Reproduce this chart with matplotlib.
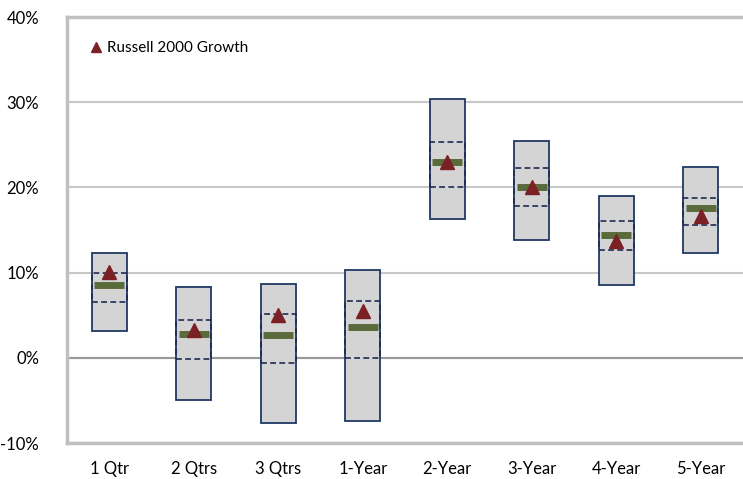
import numpy as np
import matplotlib.pyplot as plt
from matplotlib.patches import Rectangle
from matplotlib.ticker import FuncFormatter

plt.rcParams['font.family'] = ['Lato', 'DejaVu Sans']

periods = ["1 Qtr", "2 Qtrs", "3 Qtrs", "1-Year", "2-Year", "3-Year", "4-Year", "5-Year"]
# percentile ranges (%)
p95 = [12.3, 8.3, 8.7, 10.3, 30.4, 25.5, 19.0, 22.4]
p5 = [3.1, -5.0, -7.7, -7.4, 16.3, 13.8, 8.5, 12.3]
p25 = [9.9, 4.4, 5.1, 6.7, 25.3, 22.3, 16.0, 18.8]
p75 = [6.6, -0.1, -0.6, 0.0, 20.1, 17.8, 12.7, 15.6]
median = [8.6, 2.8, 2.7, 3.6, 23.0, 20.1, 14.4, 17.6]
r2000g = [10.1, 3.3, 5.0, 5.5, 23.0, 20.0, 13.7, 16.6]

fig = plt.figure(figsize=(7.43, 4.79), dpi=100)
ax = fig.add_axes([67/743, 1 - 443/479, 676/743, 426/479])

x = np.arange(len(periods))
w = 0.41
mw = 0.36

for i in x:
    ax.add_patch(Rectangle((i - w/2, p5[i]), w, p95[i] - p5[i], facecolor="#d4d4d4",
                           edgecolor="#1f3864", lw=1.3, zorder=2))
    ax.add_patch(Rectangle((i - w/2, p75[i]), w, p25[i] - p75[i], facecolor="none",
                           edgecolor="#1f2a50", lw=1.2, ls=(0, (3.5, 2)), zorder=3))
    ax.plot([i - mw/2, i + mw/2], [median[i], median[i]], color="#5a6b3b", lw=5,
            solid_capstyle="butt", zorder=4)

ax.plot(x, r2000g, "^", color="#7b2025", markersize=10, ls="none", zorder=5,
        label="Russell 2000 Growth")

ax.set_xlim(-0.5, len(periods) - 0.5)
ax.set_ylim(-10, 40)
ax.set_yticks(np.arange(-10, 41, 10))
ax.yaxis.set_major_formatter(FuncFormatter(lambda v, p: f"{v:.0f}%"))
ax.set_xticks(x)
ax.set_xticklabels(periods)
ax.tick_params(axis="both", length=0, labelsize=12, colors="black")
ax.tick_params(axis="x", pad=13)
ax.tick_params(axis="y", pad=20)

ax.grid(axis="y", color="#c8c8c8", lw=1.5, zorder=0)
ax.axhline(0, color="#999999", lw=1.5, zorder=1)
ax.set_axisbelow(True)

ax.spines["right"].set_visible(False)
for s in ["left", "bottom", "top"]:
    ax.spines[s].set_color("#c0c0c0")
    ax.spines[s].set_linewidth(2.5)

leg = ax.legend(loc="upper left", bbox_to_anchor=(0.0, 0.975), frameon=False,
                fontsize=11, handletextpad=-0.3, handlelength=2.0, markerscale=0.65)

fig.savefig("out.png", dpi=100)
